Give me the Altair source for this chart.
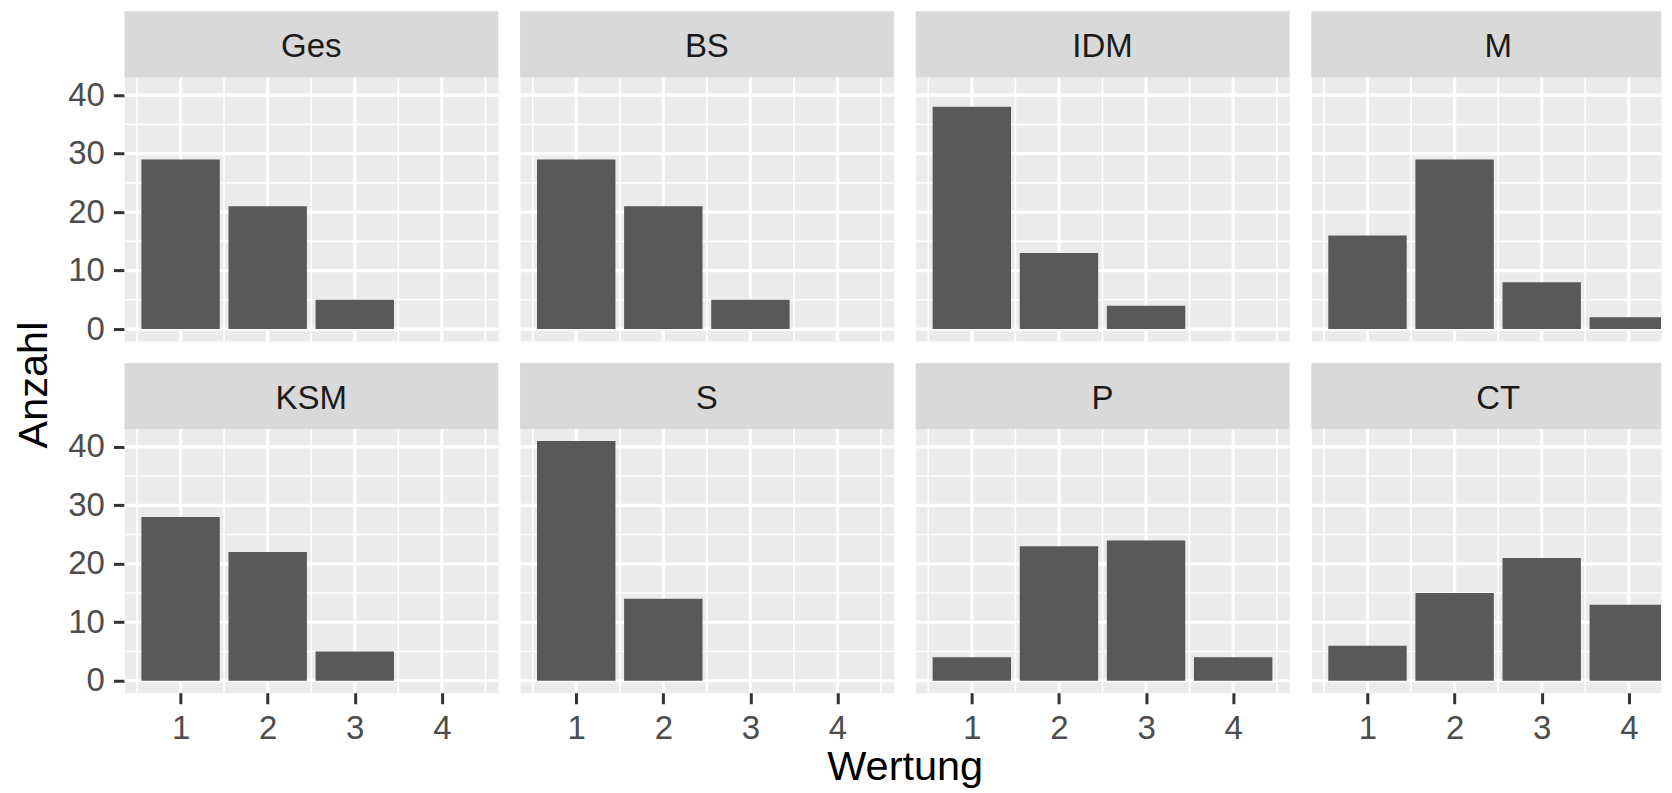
import altair as alt
import pandas as pd

# ---- data ----
groups = ["Ges", "BS", "IDM", "M", "KSM", "S", "P", "CT"]
wertung = [1, 2, 3, 4]
cnt_ges = [29, 21, 5, 0]
cnt_bs = [29, 21, 5, 0]
cnt_idm = [38, 13, 4, 0]
cnt_m = [16, 29, 8, 2]
cnt_ksm = [28, 22, 5, 0]
cnt_s = [41, 14, 0, 0]
cnt_p = [4, 23, 24, 4]
cnt_ct = [6, 15, 21, 13]
counts = [cnt_ges, cnt_bs, cnt_idm, cnt_m, cnt_ksm, cnt_s, cnt_p, cnt_ct]

x_ticks = [1, 2, 3, 4]
x_minor = [0.5, 1.5, 2.5, 3.5, 4.5]
y_ticks = [0, 10, 20, 30, 40]
y_minor = [5, 15, 25, 35]

# ---- styling ----
FONT = "Liberation Sans"
W = 374          # full panel width
W_LAST = 350     # visible width of the right-most column (cut off by the page edge)
GAP = 22
STRIP = 66       # strip height
PH = 264         # panel height
H = STRIP + PH
BAR_HALF = 0.45
TICK_FS = 33
TITLE_FS = 41.5

ymax = max(max(c) for c in counts)
x_lo, x_hi = 1 - BAR_HALF, 4 + BAR_HALF
x_pad = 0.05 * (x_hi - x_lo)
x_dom = [x_lo - x_pad, x_hi + x_pad]
y_dom = [-0.05 * ymax, ymax * 1.05]
k = W / (x_dom[1] - x_dom[0])   # pixels per unit


def panel(i, g):
    row, col = divmod(i, 4)
    w = W_LAST if col == 3 else W
    dom = [x_dom[0], x_dom[0] + w / k]   # same pixels per unit, truncated view
    xs = alt.Scale(domain=dom, nice=False, zero=False)
    ys = alt.Scale(domain=y_dom, range=[H, STRIP], nice=False, zero=False)

    if row == 1:
        xaxis = alt.Axis(
            values=x_ticks, format="d", grid=False, domain=False,
            tickSize=11, tickWidth=3, tickColor="#333333",
            labelColor="#4D4D4D", labelFontSize=TICK_FS, labelFont=FONT,
            labelPadding=35, labelBaseline="alphabetic", labelFlush=False,
            title=("Wertung" if col == 0 else ""),
            titleFont=FONT, titleFontSize=TITLE_FS, titleFontWeight="normal",
            titleColor="black", titleAlign="center", titleBaseline="alphabetic",
            titleX=(2 * W + 1.5 * GAP) if col == 0 else 0,
            titleY=87,
        )
    else:
        xaxis = None

    if col == 0:
        yaxis = alt.Axis(
            values=y_ticks, format="d", grid=False, domain=False,
            tickSize=11, tickWidth=3, tickColor="#333333",
            labelColor="#4D4D4D", labelFontSize=TICK_FS, labelFont=FONT,
            labelPadding=9, labelFlush=False,
            title=("Anzahl" if row == 0 else ""),
            titleFont=FONT, titleFontSize=TITLE_FS, titleFontWeight="normal",
            titleColor="black", titleAngle=270, titleAlign="center",
            titleBaseline="alphabetic", titleX=-78, titleY=373.5,
        )
    else:
        yaxis = None

    df = pd.DataFrame({"Wertung": wertung, "Anzahl": counts[i]})
    xm = [v for v in x_minor if v <= dom[1]]
    xM = [v for v in x_ticks if v <= dom[1]]

    minor_v = alt.Chart(pd.DataFrame({"v": xm})).mark_rule(
        color="white", strokeWidth=1.6).encode(
        x=alt.X("v:Q", scale=xs, axis=xaxis),
        y=alt.value(STRIP), y2=alt.value(H))
    minor_h = alt.Chart(pd.DataFrame({"h": y_minor})).mark_rule(
        color="white", strokeWidth=1.6).encode(
        y=alt.Y("h:Q", scale=ys, axis=yaxis),
        x=alt.value(0), x2=alt.value(w))
    major_v = alt.Chart(pd.DataFrame({"v": xM})).mark_rule(
        color="white", strokeWidth=3.2).encode(
        x=alt.X("v:Q", scale=xs, axis=xaxis),
        y=alt.value(STRIP), y2=alt.value(H))
    major_h = alt.Chart(pd.DataFrame({"h": y_ticks})).mark_rule(
        color="white", strokeWidth=3.2).encode(
        y=alt.Y("h:Q", scale=ys, axis=yaxis),
        x=alt.value(0), x2=alt.value(w))

    bars = alt.Chart(df).transform_filter("datum.Anzahl > 0").transform_calculate(
        x0=f"datum.Wertung - {BAR_HALF}",
        x1=f"min(datum.Wertung + {BAR_HALF}, {dom[1]})",
        base="0",
    ).mark_rect(color="#595959").encode(
        x=alt.X("x0:Q", scale=xs, axis=xaxis),
        x2="x1:Q",
        y=alt.Y("Anzahl:Q", scale=ys, axis=yaxis),
        y2="base:Q",
    )

    strip_df = pd.DataFrame({"label": [g]})
    strip = alt.Chart(strip_df).mark_rect(color="#D9D9D9").encode(
        x=alt.value(0), x2=alt.value(w), y=alt.value(0), y2=alt.value(STRIP))
    strip_txt = alt.Chart(strip_df).mark_text(
        font=FONT, fontSize=TICK_FS, color="#1A1A1A",
        baseline="alphabetic", align="center").encode(
        x=alt.value(W / 2), y=alt.value(46), text="label:N")

    return alt.layer(minor_v, minor_h, major_v, major_h, bars, strip, strip_txt).properties(
        width=w, height=H)


panels = [panel(i, g) for i, g in enumerate(groups)]

chart = alt.concat(*panels, columns=4, spacing=GAP, bounds="flush", align="each").properties(
    padding={"left": 4.5, "top": 2, "right": 0, "bottom": -1}
).configure_view(fill="#EBEBEB", stroke="transparent")

chart.save("out.html", embed_options={"renderer": "svg", "actions": False})
